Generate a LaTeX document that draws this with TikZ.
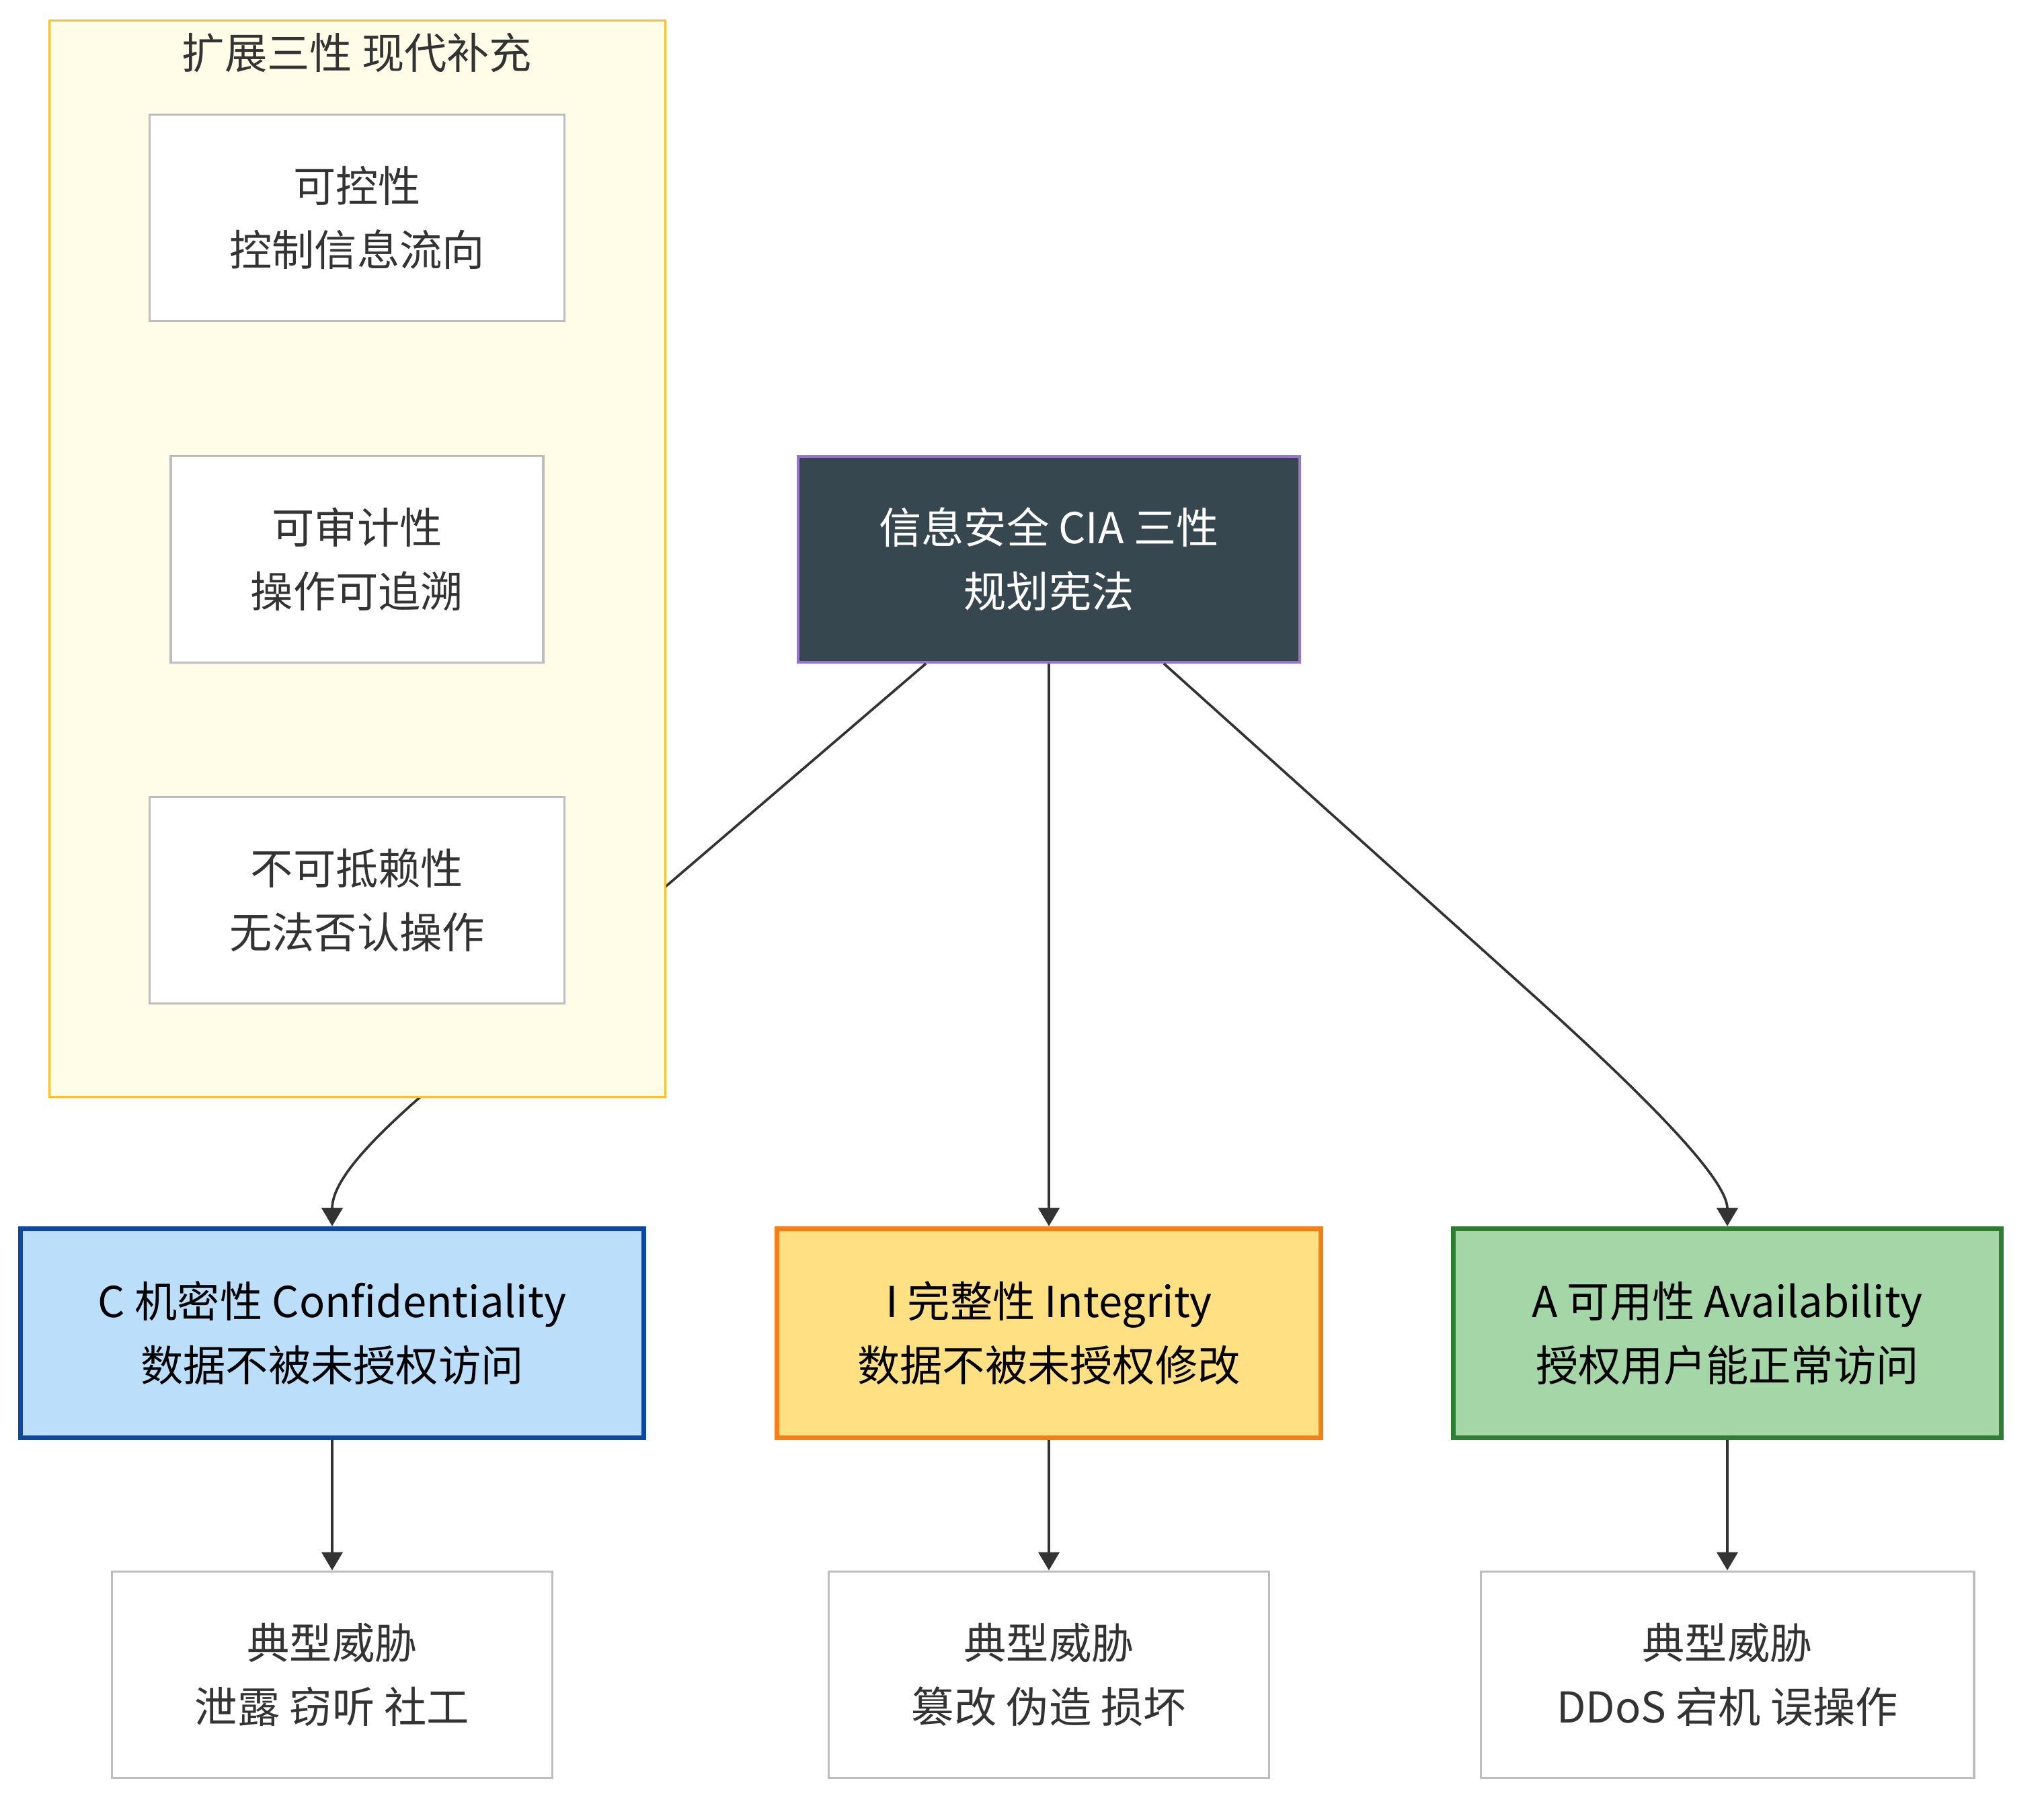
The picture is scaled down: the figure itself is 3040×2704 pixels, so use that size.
\documentclass[tikz,border=0pt]{standalone}
\usepackage{fontspec}
\setmainfont{Noto Sans CJK SC}
\usetikzlibrary{arrows.meta,calc}
\definecolor{txt}{HTML}{333333}
\definecolor{clfill}{HTML}{FFFDE7}
\definecolor{cldraw}{HTML}{FBC02D}
\definecolor{gbord}{HTML}{BDBDBD}
\definecolor{rootfill}{HTML}{37474F}
\definecolor{rootdraw}{HTML}{9575CD}
\definecolor{cfill}{HTML}{BBDEFB}
\definecolor{cdraw}{HTML}{0D47A1}
\definecolor{ifill}{HTML}{FFE082}
\definecolor{idraw}{HTML}{F57F17}
\definecolor{afill}{HTML}{A5D6A7}
\definecolor{adraw}{HTML}{2E7D32}
\definecolor{edgec}{HTML}{333333}
\begin{document}
\begin{tikzpicture}[x=0.01cm,y=-0.01cm,
  every node/.style={font=\fontsize{18}{27}\selectfont, align=center, inner sep=0pt},
  plainbox/.style={draw=gbord, fill=white, line width=1pt, text=txt, minimum height=3.07cm},
  colbox/.style={line width=2.1pt, text=black, minimum height=3.11cm},
  clusterbox/.style={draw=cldraw, fill=clfill, line width=0.9pt, minimum width=9.15cm, minimum height=16cm},
  edge/.style={draw=edgec, line width=1.05pt, -{Triangle[length=0.27cm,width=0.31cm]}}]
\useasboundingbox (0,0) rectangle (3040,2704);

% root
\node[draw=rootdraw, fill=rootfill, line width=1.1pt, text=white,
      minimum width=7.46cm, minimum height=3.06cm] (root) at (1560,832)
      {信息安全 CIA 三性\\规划宪法};

% CIA nodes
\node[colbox, draw=cdraw, fill=cfill, minimum width=9.27cm] (C) at (494,1983)
      {C 机密性 Confidentiality\\数据不被未授权访问};
\node[colbox, draw=idraw, fill=ifill, minimum width=8.08cm] (I) at (1560,1983)
      {I 完整性 Integrity\\数据不被未授权修改};
\node[colbox, draw=adraw, fill=afill, minimum width=8.14cm] (A) at (2569,1983)
      {A 可用性 Availability\\授权用户能正常访问};

% threat nodes
\node[plainbox, minimum width=6.55cm] (T1) at (494,2491) {典型威胁\\泄露 窃听 社工};
\node[plainbox, minimum width=6.55cm] (T2) at (1560,2491) {典型威胁\\篡改 伪造 损坏};
\node[plainbox, minimum width=7.33cm] (T3) at (2569,2491) {典型威胁\\DDoS 宕机 误操作};

% edges from root
\coordinate (rcs) at ($(root.south)+(-183,0)$);
\coordinate (ras) at ($(root.south)+(171,0)$);
\draw[edge] (rcs) -- (650,1610) .. controls (540,1703.5) and (494,1760) .. (C.north);
\draw[edge] (root.south) -- (I.north);
\draw[edge] (ras) -- (2280,1480) .. controls (2480,1660) and (2569,1760) .. (A.north);

% threat edges
\draw[edge] (C.south) -- (T1.north);
\draw[edge] (I.south) -- (T2.north);
\draw[edge] (A.south) -- (T3.north);

% cluster (drawn over the passing edge)
\node[clusterbox] (cluster) at (531.5,831) {};
\node[text=txt] (cltitle) at (531,78) {扩展三性 现代补充};
\node[plainbox, minimum width=6.17cm] (K1) at (531,324) {可控性\\控制信息流向};
\node[plainbox, minimum width=5.54cm] (K2) at (531,832) {可审计性\\操作可追溯};
\node[plainbox, minimum width=6.17cm] (K3) at (531,1339) {不可抵赖性\\无法否认操作};
\end{tikzpicture}
\end{document}
